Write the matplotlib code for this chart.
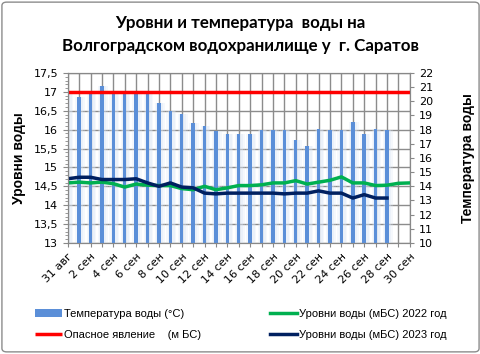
import numpy as np
import matplotlib.pyplot as plt
from matplotlib.patches import FancyBboxPatch

# дни: 31 авг .. 30 сен
days = ["31 авг"] + [f"{d} сен" for d in range(1, 31)]

temp_water = [20.7, 20.33, 20.56, 21.08, 20.6, 20.56, 20.7, 20.7, 19.9, 19.34,
              19.1, 18.5, 18.28, 17.93, 17.72, 17.72, 17.72, 17.95, 17.95, 17.95,
              17.29, 16.87, 18.05, 17.95, 17.95, 18.52, 17.72, 18.05, 17.95]

level_2022 = [14.59, 14.61, 14.59, 14.61, 14.57, 14.48, 14.56, 14.53, 14.52, 14.52,
              14.44, 14.41, 14.50, 14.41, 14.46, 14.52, 14.52, 14.54, 14.59, 14.59,
              14.65, 14.56, 14.61, 14.66, 14.75, 14.59, 14.59, 14.52, 14.53, 14.58,
              14.59]

level_2023 = [14.70, 14.74, 14.74, 14.68, 14.68, 14.68, 14.70, 14.59, 14.50, 14.59,
              14.48, 14.46, 14.32, 14.30, 14.32, 14.32, 14.32, 14.32, 14.32, 14.30,
              14.32, 14.32, 14.38, 14.32, 14.32, 14.19, 14.28, 14.19, 14.19]

danger_level = [17.0] * len(days)

x_all = np.arange(len(days))
x_temp = np.arange(len(temp_water))
x_2023 = np.arange(len(level_2023))

fig = plt.figure(figsize=(4.81, 3.54), dpi=100)
ax = fig.add_axes([0.1408, 0.3136, 0.7112, 0.4802])
ax2 = ax.twinx()

ax.set_zorder(ax2.get_zorder() + 1)
ax.patch.set_visible(False)
ax2.set_facecolor("#f2f2f2")

# столбцы температуры с мягким ореолом
for w, a in [(0.85, 0.25), (0.6, 0.35)]:
    ax2.bar(x_temp + 0.08, np.array(temp_water) - 10, width=w, bottom=10,
            color="#dbe6f5", alpha=a, linewidth=0, zorder=2)
bars = ax2.bar(x_temp, np.array(temp_water) - 10, width=0.3, bottom=10,
               color="#5b8fd8", linewidth=0, zorder=3)

l_red, = ax.plot(x_all, danger_level, color="#ff0000", lw=2.5, solid_capstyle="butt")
l_22, = ax.plot(x_all, level_2022, color="#00b050", lw=2.5)
l_23, = ax.plot(x_2023, level_2023, color="#002060", lw=2.5)

ax.set_xlim(0, 30)
ax.set_ylim(13, 17.5)
ax2.set_ylim(10, 22)
ax.set_yticks(np.arange(13, 17.51, 0.5))
ax.set_yticklabels([f"{v:g}".replace(".", ",") for v in np.arange(13, 17.51, 0.5)])
ax.set_yticks(np.arange(13, 17.51, 0.1), minor=True)
ax2.set_yticks(np.arange(10, 23, 1))

ax.set_xticks(x_all)
ax.set_xticklabels([d if i % 2 == 0 else "" for i, d in enumerate(days)],
                   rotation=45, ha="right", rotation_mode="anchor")
ax.tick_params(axis="x", length=3, color="#888888", labelsize=8, pad=3)
ax.tick_params(axis="y", which="both", color="#888888", labelsize=8, direction="out")
ax.tick_params(axis="y", which="minor", length=2)
ax2.tick_params(axis="y", color="#888888", labelsize=8, length=3)

for v in np.arange(13, 17.51, 0.5):
    ax2.axhline(10 + (v - 13) / 4.5 * 12, color="#8c8c8c", lw=1, zorder=1)
for xi in x_all:
    ax2.axvline(xi, color="#8c8c8c", lw=1, zorder=1)

for a in (ax, ax2):
    for s in a.spines.values():
        s.set_color("#888888")

ax.set_ylabel("Уровни воды", fontsize=10, fontweight="bold", family="Liberation Sans", labelpad=5)
ax2.set_ylabel("Температура воды", fontsize=10, fontweight="bold", family="Liberation Sans",
               rotation=90, labelpad=20)

fig.text(0.5, 0.935, "Уровни и температура  воды на", ha="center", va="center",
         fontsize=12.2, fontweight="bold", family="Lato")
fig.text(0.5, 0.87, "Волгоградском водохранилище у  г. Саратов", ha="center", va="center",
         fontsize=12.2, fontweight="bold", family="Lato")

leg_kw = dict(loc="center left", frameon=False, borderpad=0, borderaxespad=0,
              prop={"family": "Liberation Sans", "size": 8},
              handlelength=2.4, handletextpad=0.25, labelspacing=0.95)
leg1 = fig.legend([bars, l_red], ["Температура воды (°С)", "Опасное явление    (м БС)"],
                  bbox_to_anchor=(35 / 481, 1 - 324.5 / 354), **leg_kw)
fig.legend([l_22, l_23], ["Уровни воды (мБС) 2022 год", "Уровни воды (мБС) 2023 год"],
           bbox_to_anchor=(270 / 481, 1 - 324.5 / 354), **leg_kw)

fig.patches.append(FancyBboxPatch((0.004, 0.006), 0.992, 0.988,
                                  boxstyle="round,pad=0,rounding_size=0.01",
                                  transform=fig.transFigure, fill=False,
                                  edgecolor="#8c8c8c", lw=1))

fig.savefig("out.png", dpi=100)
